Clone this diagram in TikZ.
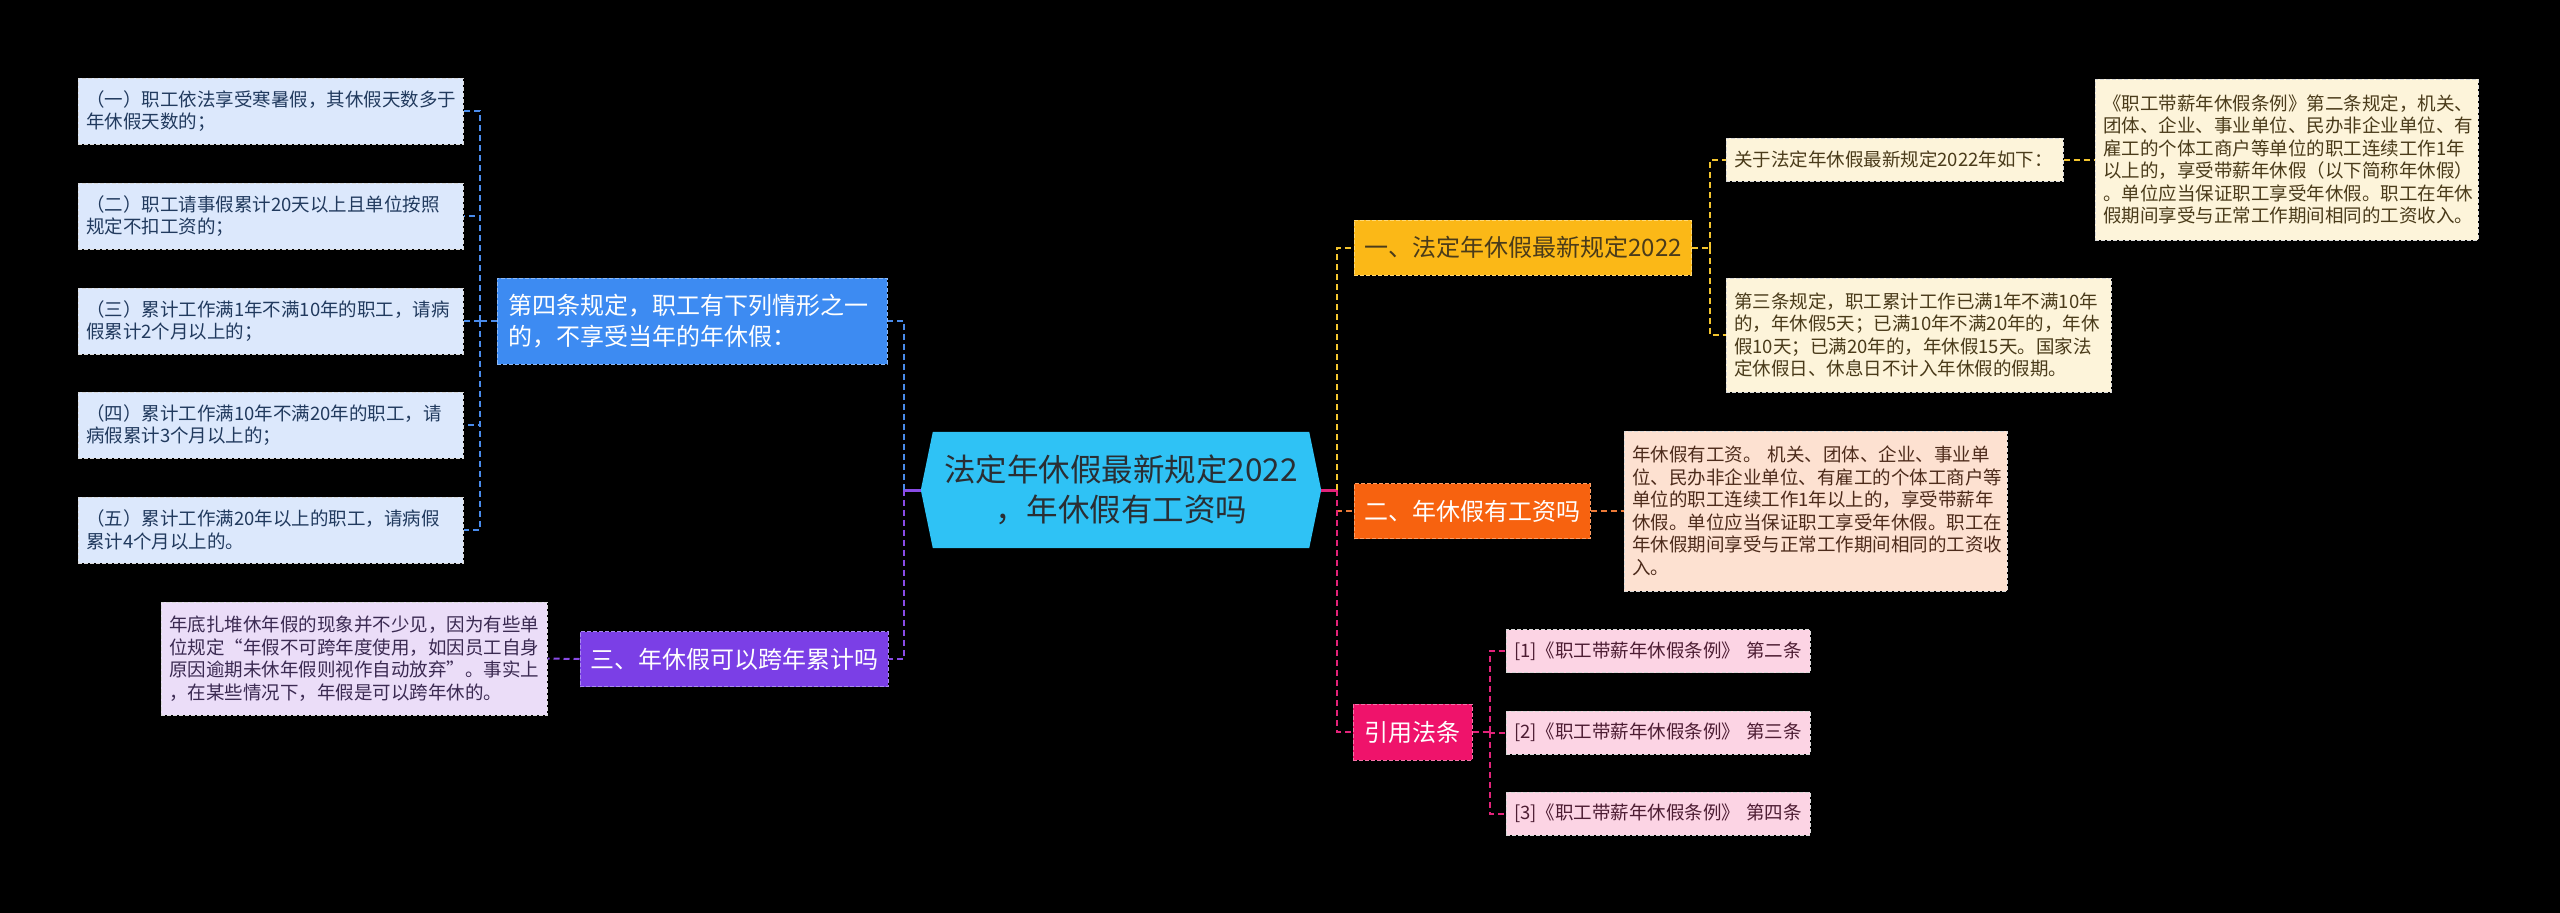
\documentclass[tikz,border=0pt]{standalone}
\usepackage{fontspec}
\setmainfont{Noto Sans CJK SC}
\usepackage{tikz}
\usetikzlibrary{backgrounds}

\definecolor{rootfill}{HTML}{2FC2F5}
\definecolor{roottext}{HTML}{2A2E33}
\definecolor{bluenode}{HTML}{3D8BF2}
\definecolor{blueedge}{HTML}{8DB9F7}
\definecolor{blueleaf}{HTML}{DCE8FC}
\definecolor{blueink}{HTML}{213A5E}
\definecolor{blueline}{HTML}{4A8CEC}
\definecolor{purplenode}{HTML}{7B3FE6}
\definecolor{purpleedge}{HTML}{A98AF0}
\definecolor{purpleleaf}{HTML}{EBDDF8}
\definecolor{purpleink}{HTML}{3B2A52}
\definecolor{purpleline}{HTML}{8A4CE6}
\definecolor{yellownode}{HTML}{FBB817}
\definecolor{yellowedge}{HTML}{FFD874}
\definecolor{yellowleaf}{HTML}{FDF4DA}
\definecolor{yellowink}{HTML}{4A3B1A}
\definecolor{yellowline}{HTML}{F3C42E}
\definecolor{orangenode}{HTML}{F7620F}
\definecolor{orangeedge}{HTML}{FF9D63}
\definecolor{orangeleaf}{HTML}{FDE1D1}
\definecolor{orangeink}{HTML}{4D2B1B}
\definecolor{orangeline}{HTML}{EC7A38}
\definecolor{pinknode}{HTML}{EF136B}
\definecolor{pinkedge}{HTML}{F772A8}
\definecolor{pinkleaf}{HTML}{FCD4E4}
\definecolor{pinkink}{HTML}{4D1D33}
\definecolor{pinkline}{HTML}{E3237A}

\newcommand{\leaffont}{\fontsize{18.5}{22.5}\selectfont}
\newcommand{\topicfont}{\fontsize{24}{31}\selectfont}
\newcommand{\rootfont}{\fontsize{31.5}{40}\selectfont}

\begin{document}
\begin{tikzpicture}[x=1pt,y=-1pt,
  rootnode/.style={font=\rootfont, text=roottext, align=center, minimum width=400pt, minimum height=116pt, inner sep=0pt},
  topic/.style={font=\topicfont, text=white, inner xsep=10pt, inner ysep=0pt, minimum height=55pt, draw, line width=1pt, dash pattern=on 4pt off 2pt},
  leaf/.style={font=\leaffont, align=left, inner xsep=8pt, inner ysep=0pt, draw=white!85!black, line width=1pt, dash pattern=on 4pt off 2pt},
  link/.style={line width=2pt, dash pattern=on 6pt off 4pt},
  stub/.style={line width=3pt}]

  \useasboundingbox (0,0) rectangle (2560,913);

  % Draw root node
  \node[rootnode] (root) at (1121,490) {法定年休假最新规定2022\\，年休假有工资吗};

  % Draw black page and hexagon behind the root text
  \begin{scope}[on background layer]
    \fill[black] (0,0) rectangle (2560,913);
    \fill[rootfill] (root.west) -- ([xshift=12pt]root.north west) -- ([xshift=-12pt]root.north east)
      -- (root.east) -- ([xshift=-12pt]root.south east) -- ([xshift=12pt]root.south west) -- cycle;
  \end{scope}

  % Draw left topics
  \node[topic, fill=bluenode, draw=blueedge, text width=368pt, align=left, inner xsep=11pt, minimum height=86pt] (rule4) at (692,321) {第四条规定，职工有下列情形之一\\的，不享受当年的年休假：};
  \node[topic, fill=purplenode, draw=purpleedge, minimum width=306pt] (sec3) at (734,659) {三、年休假可以跨年累计吗};

  % Draw conditions of rule four
  \node[leaf, fill=blueleaf, text=blueink, text width=369pt, minimum height=66pt] (cond1) at (270.5,111) {（一）职工依法享受寒暑假，其休假天数多于\\年休假天数的；};
  \node[leaf, fill=blueleaf, text=blueink, text width=369pt, minimum height=66pt] (cond2) at (270.5,216) {（二）职工请事假累计20天以上且单位按照\\规定不扣工资的；};
  \node[leaf, fill=blueleaf, text=blueink, text width=369pt, minimum height=66pt] (cond3) at (270.5,321) {（三）累计工作满1年不满10年的职工，请病\\假累计2个月以上的；};
  \node[leaf, fill=blueleaf, text=blueink, text width=369pt, minimum height=66pt] (cond4) at (270.5,425) {（四）累计工作满10年不满20年的职工，请\\病假累计3个月以上的；};
  \node[leaf, fill=blueleaf, text=blueink, text width=369pt, minimum height=66pt] (cond5) at (270.5,530) {（五）累计工作满20年以上的职工，请病假\\累计4个月以上的。};

  % Draw text of topic three
  \node[leaf, fill=purpleleaf, text=purpleink, text width=370pt, minimum height=113pt] (carry) at (354,658.5) {年底扎堆休年假的现象并不少见，因为有些单\\位规定“年假不可跨年度使用，如因员工自身\\原因逾期未休年假则视作自动放弃”。事实上\\，在某些情况下，年假是可以跨年休的。};

  % Draw right topics
  \node[topic, fill=yellownode, draw=yellowedge, text=yellowink, minimum width=336pt] (sec1) at (1523,247.5) {一、法定年休假最新规定2022};
  \node[topic, fill=orangenode, draw=orangeedge, minimum width=236pt] (sec2) at (1472,511) {二、年休假有工资吗};
  \node[topic, fill=pinknode, draw=pinkedge, minimum width=119pt, minimum height=56pt] (cite) at (1412.5,732) {引用法条};

  % Draw leaves of topic one
  \node[leaf, fill=yellowleaf, text=yellowink, text width=321pt, minimum height=43pt] (about) at (1894.5,159.5) {关于法定年休假最新规定2022年如下：};
  \node[leaf, fill=yellowleaf, text=yellowink, text width=367pt, minimum height=161pt] (art2) at (2286.5,159.5) {《职工带薪年休假条例》第二条规定，机关、\\团体、企业、事业单位、民办非企业单位、有\\雇工的个体工商户等单位的职工连续工作1年\\以上的，享受带薪年休假（以下简称年休假）\\。单位应当保证职工享受年休假。职工在年休\\假期间享受与正常工作期间相同的工资收入。};
  \node[leaf, fill=yellowleaf, text=yellowink, text width=369pt, minimum height=114pt] (art3) at (1918.5,335) {第三条规定，职工累计工作已满1年不满10年\\的，年休假5天；已满10年不满20年的，年休\\假10天；已满20年的，年休假15天。国家法\\定休假日、休息日不计入年休假的假期。};

  % Draw leaf of topic two
  \node[leaf, fill=orangeleaf, text=orangeink, text width=367pt, minimum height=160pt] (wage) at (1815.5,511) {年休假有工资。~机关、团体、企业、事业单\\位、民办非企业单位、有雇工的个体工商户等\\单位的职工连续工作1年以上的，享受带薪年\\休假。单位应当保证职工享受年休假。职工在\\年休假期间享受与正常工作期间相同的工资收\\入。};

  % Draw cited articles
  \node[leaf, fill=pinkleaf, text=pinkink, text width=288pt, minimum height=43pt] (ref1) at (1658,651) {[1]《职工带薪年休假条例》~第二条};
  \node[leaf, fill=pinkleaf, text=pinkink, text width=288pt, minimum height=43pt] (ref2) at (1658,732.5) {[2]《职工带薪年休假条例》~第三条};
  \node[leaf, fill=pinkleaf, text=pinkink, text width=288pt, minimum height=43pt] (ref3) at (1658,813.5) {[3]《职工带薪年休假条例》~第四条};

  % Draw links on the left of the root
  \draw[stub, purpleline] (root.west) -- ++(-17,0) coordinate (lhub);
  \draw[link, blueline] (lhub) |- (rule4.east);
  \draw[link, purpleline] (lhub) |- (sec3.east);
  \draw[link, purpleline] (sec3.west) -- (carry.east);

  % Draw links from rule four to its conditions
  \draw[link, blueline] (rule4.west) -- ++(-17,0) coordinate (bhub);
  \foreach \c in {cond1,cond2,cond3,cond4,cond5}
    \draw[link, blueline] (bhub) |- (\c.east);

  % Draw links on the right of the root
  \draw[stub, pinkline] (root.east) -- ++(16,0) coordinate (rhub);
  \draw[link, yellowline] (rhub) |- (sec1.west);
  \draw[link, orangeline] (rhub) |- (sec2.west);
  \draw[link, pinkline] (rhub) |- (cite.west);

  % Draw links of topic one
  \draw[link, yellowline] (sec1.east) -- ++(18,0) coordinate (ohub);
  \draw[link, yellowline] (ohub) |- (about.west);
  \draw[link, yellowline] (ohub) |- (art3.west);
  \draw[link, yellowline] (about.east) -- (art2.west);

  % Draw link of topic two
  \draw[link, orangeline] (sec2.east) -- (wage.west);

  % Draw links to cited articles
  \draw[link, pinkline] (cite.east) -- ++(17,0) coordinate (chub);
  \foreach \r in {ref1,ref2,ref3}
    \draw[link, pinkline] (chub) |- (\r.west);

\end{tikzpicture}
\end{document}
